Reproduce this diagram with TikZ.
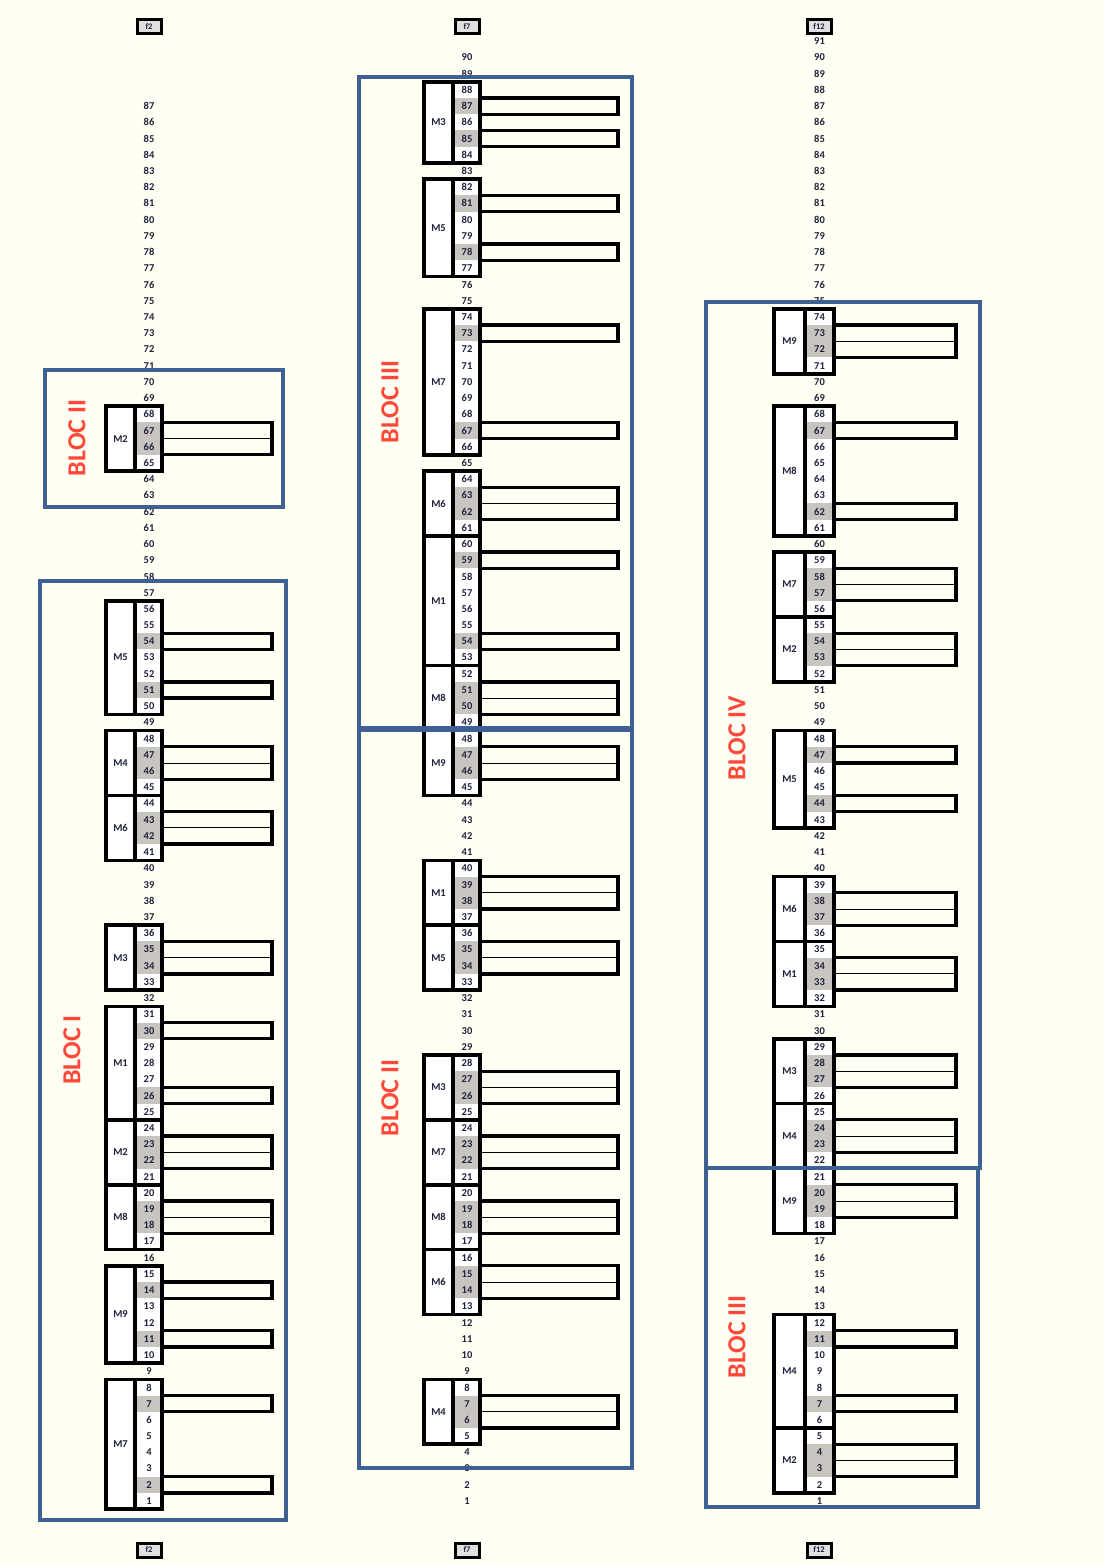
\documentclass[tikz,border=0pt]{standalone}
\usepackage{fontspec}
\setmainfont{Carlito}
\definecolor{paper}{RGB}{255,255,244}
\definecolor{numcol}{RGB}{30,34,60}
\definecolor{cellgray}{RGB}{200,197,193}
\definecolor{blocblue}{RGB}{62,96,146}
\definecolor{blocred}{RGB}{255,72,56}
\tikzset{
  numtext/.style={font=\bfseries\fontsize{10.5}{11}\selectfont, text=numcol, inner sep=0pt},
  modbox/.style={draw=black, line width=3.6pt, fill=white},
  barbox/.style={draw=black, line width=3.3pt},
  blocbox/.style={draw=blocblue, line width=3.4pt},
  bloclabel/.style={font=\bfseries\fontsize{26}{26}\selectfont, text=blocred, rotate=90, inner sep=0pt},
  headbox/.style={draw=black, line width=3pt, fill=black!12, font=\bfseries\fontsize{8.5}{9}\selectfont, text=numcol,
    minimum width=24pt, minimum height=14pt, inner sep=1.5pt}
}
\newcommand{\ry}[1]{1501-(#1-1)*16.22}
\newcommand{\modul}[4]{%
  \draw[modbox] (\cL,{\ry{#4}-8.11}) rectangle (\cD,{\ry{#3}+8.11});
  \draw[modbox] (\cD,{\ry{#4}-8.11}) rectangle (\cR,{\ry{#3}+8.11});
  \node[numtext] (#1) at ({(\cL+\cD)/2},{(\ry{#3}+\ry{#4})/2}) {#2};
}
\newcommand{\sbar}[1]{%
  \fill[cellgray] ({\cD+1.8},{\ry{#1}-8.11}) rectangle ({\cR-1.8},{\ry{#1}+8.11});
  \draw[barbox] (\cR,{\ry{#1}-8.11}) rectangle (\cE,{\ry{#1}+8.11});
}
\newcommand{\dbar}[1]{%
  \fill[cellgray] ({\cD+1.8},{\ry{#1+1}-8.11}) rectangle ({\cR-1.8},{\ry{#1}+8.11});
  \draw[barbox] (\cR,{\ry{#1+1}-8.11}) rectangle (\cE,{\ry{#1}+8.11});
  \draw[line width=0.8pt] (\cR,{\ry{#1}-8.11}) -- (\cE,{\ry{#1}-8.11});
}
\begin{document}
\begin{tikzpicture}[x=1pt, y=-1pt]
    \fill[paper] (0,0) rectangle (1104,1565);
    \useasboundingbox (0,0) rectangle (1104,1565);
    % column f2
    \begin{scope}
    \def\cL{106}\def\cD{135}\def\cR{162}\def\cE{272}
    \modul{a-m2t}{M2}{65}{68} \dbar{66}
    \modul{a-m5}{M5}{50}{56} \sbar{54} \sbar{51}
    \modul{a-m4}{M4}{45}{48} \dbar{46}
    \modul{a-m6}{M6}{41}{44} \dbar{42}
    \modul{a-m3}{M3}{33}{36} \dbar{34}
    \modul{a-m1}{M1}{25}{31} \sbar{30} \sbar{26}
    \modul{a-m2}{M2}{21}{24} \dbar{22}
    \modul{a-m8}{M8}{17}{20} \dbar{18}
    \modul{a-m9}{M9}{10}{15} \sbar{14} \sbar{11}
    \modul{a-m7}{M7}{1}{8} \sbar{7} \sbar{2}
    \foreach \n in {1,...,87}
        \node[numtext] (a-\n) at (149,{\ry{\n}}) {\n};
    \end{scope}
    % column f7
    \begin{scope}
    \def\cL{424}\def\cD{453}\def\cR{480}\def\cE{618}
    \modul{b-m3t}{M3}{84}{88} \sbar{87} \sbar{85}
    \modul{b-m5t}{M5}{77}{82} \sbar{81} \sbar{78}
    \modul{b-m7t}{M7}{66}{74} \sbar{73} \sbar{67}
    \modul{b-m6t}{M6}{61}{64} \dbar{62}
    \modul{b-m1t}{M1}{53}{60} \sbar{59} \sbar{54}
    \modul{b-m8t}{M8}{49}{52} \dbar{50}
    \modul{b-m9}{M9}{45}{48} \dbar{46}
    \modul{b-m1}{M1}{37}{40} \dbar{38}
    \modul{b-m5}{M5}{33}{36} \dbar{34}
    \modul{b-m3}{M3}{25}{28} \dbar{26}
    \modul{b-m7}{M7}{21}{24} \dbar{22}
    \modul{b-m8}{M8}{17}{20} \dbar{18}
    \modul{b-m6}{M6}{13}{16} \dbar{14}
    \modul{b-m4}{M4}{5}{8} \dbar{6}
    \foreach \n in {1,...,90}
        \node[numtext] (b-\n) at (467,{\ry{\n}}) {\n};
    \end{scope}
    % column f12
    \begin{scope}
    \def\cL{774}\def\cD{805}\def\cR{834}\def\cE{956}
    \modul{c-m9t}{M9}{71}{74} \dbar{72}
    \modul{c-m8}{M8}{61}{68} \sbar{67} \sbar{62}
    \modul{c-m7}{M7}{56}{59} \dbar{57}
    \modul{c-m2t}{M2}{52}{55} \dbar{53}
    \modul{c-m5}{M5}{43}{48} \sbar{47} \sbar{44}
    \modul{c-m6}{M6}{36}{39} \dbar{37}
    \modul{c-m1}{M1}{32}{35} \dbar{33}
    \modul{c-m3}{M3}{26}{29} \dbar{27}
    \modul{c-m4t}{M4}{22}{25} \dbar{23}
    \modul{c-m9}{M9}{18}{21} \dbar{19}
    \modul{c-m4}{M4}{6}{12} \sbar{11} \sbar{7}
    \modul{c-m2}{M2}{2}{5} \dbar{3}
    \foreach \n in {1,...,91}
        \node[numtext] (c-\n) at (819.5,{\ry{\n}}) {\n};
    \end{scope}
    % blocs
    \draw[blocbox] (45,370) rectangle (283,507);
    \draw[blocbox] (40,581) rectangle (286,1520);
    \draw[blocbox] (359,77) rectangle (632,728);
    \draw[blocbox] (359,730) rectangle (632,1468);
    \draw[blocbox] (706,302) rectangle (980,1168);
    \draw[blocbox] (706,1168) rectangle (978,1507);
    \node[bloclabel] (bloc2a) at (77,438) {BLOC II};
    \node[bloclabel] (bloc1a) at (72,1050) {BLOC I};
    \node[bloclabel] (bloc3b) at (390,402) {BLOC III};
    \node[bloclabel] (bloc2b) at (390,1098) {BLOC II};
    \node[bloclabel] (bloc4c) at (737,738) {BLOC IV};
    \node[bloclabel] (bloc3c) at (737,1337) {BLOC III};
    % headers
    \node[headbox] (top2) at (149,27) {f2};
    \node[headbox] (top7) at (467,27) {f7};
    \node[headbox] (top12) at (819,27) {f12};
    \node[headbox] (bot2) at (149,1550) {f2};
    \node[headbox] (bot7) at (467,1550) {f7};
    \node[headbox] (bot12) at (819,1550) {f12};
\end{tikzpicture}
\end{document}
